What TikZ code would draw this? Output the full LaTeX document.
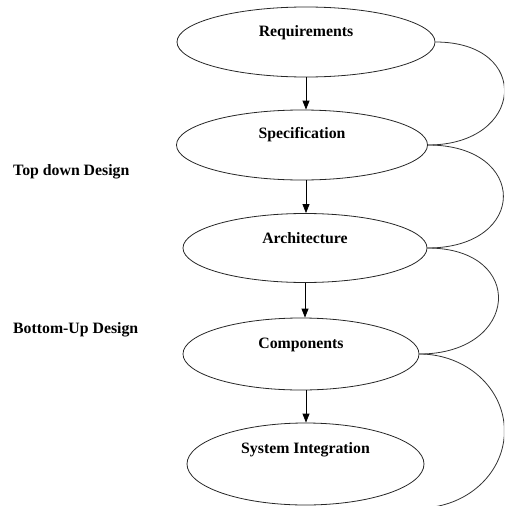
\documentclass[tikz,border=0pt]{standalone}
\usepackage{fontspec}
\setmainfont{Liberation Serif}
\usetikzlibrary{shapes.geometric,arrows.meta}

\begin{document}
\begin{tikzpicture}[x=1pt,y=-1pt,
    stage/.style={ellipse,draw=black!85,line width=0.8pt,inner sep=0pt},
    title/.style={font=\bfseries\fontsize{15.8}{18}\selectfont},
    flow/.style={-{Triangle[length=9pt,width=7pt]},line width=0.8pt},
    feedback/.style={draw=black!80,line width=0.8pt}]
    \useasboundingbox (0,0) rectangle (504,506);
    \clip (0,0) rectangle (504,506);

    % Stages
    \node[stage,minimum width=258pt,minimum height=70pt] (req) at (306,42) {};
    \node[stage,minimum width=251pt,minimum height=70pt] (spec) at (302,145) {};
    \node[stage,minimum width=244pt,minimum height=69pt] (arch) at (305,248) {};
    \node[stage,minimum width=236pt,minimum height=72pt] (comp) at (301,354) {};
    \node[stage,minimum width=237pt,minimum height=82pt] (sysint) at (305.5,464) {};

    % Stage names
    \node[title] (reqtext) at ([yshift=9pt]req.center) {Requirements};
    \node[title] (spectext) at ([yshift=10pt]spec.center) {Specification};
    \node[title] (archtext) at ([yshift=10pt]arch.center) {Architecture};
    \node[title] (comptext) at ([yshift=9pt]comp.center) {Components};
    \node[title] (sysinttext) at ([yshift=14pt]sysint.center) {System Integration};

    % Side labels
    \node[title,anchor=west,inner xsep=0pt] (topdown) at (13,172) {Top down Design};
    \node[title,anchor=west,inner xsep=0pt] (bottomup) at (13,330) {Bottom-Up Design};

    % Downward steps
    \draw[flow] (req.south) -- (req.south |- spec.north);
    \draw[flow] ([xshift=4pt]spec.south) -- ([xshift=4pt]spec.south |- arch.north);
    \draw[flow] (arch.south) -- (arch.south |- comp.north);
    \draw[flow] ([xshift=5pt]comp.south) -- ([xshift=5pt]comp.south |- sysint.north);

    % Feedback loops on the right
    \draw[feedback] (req.east) .. controls +(97,0) and +(97,0) .. (spec.east);
    \draw[feedback] (spec.east) .. controls +(101,0) and +(101,0) .. (arch.east);
    \draw[feedback] (arch.east) .. controls +(100,0) and +(100,0) .. (comp.east);
    \draw[feedback] (comp.east) arc[start angle=90,end angle=-80,x radius=85pt,y radius=77pt];
\end{tikzpicture}
\end{document}
